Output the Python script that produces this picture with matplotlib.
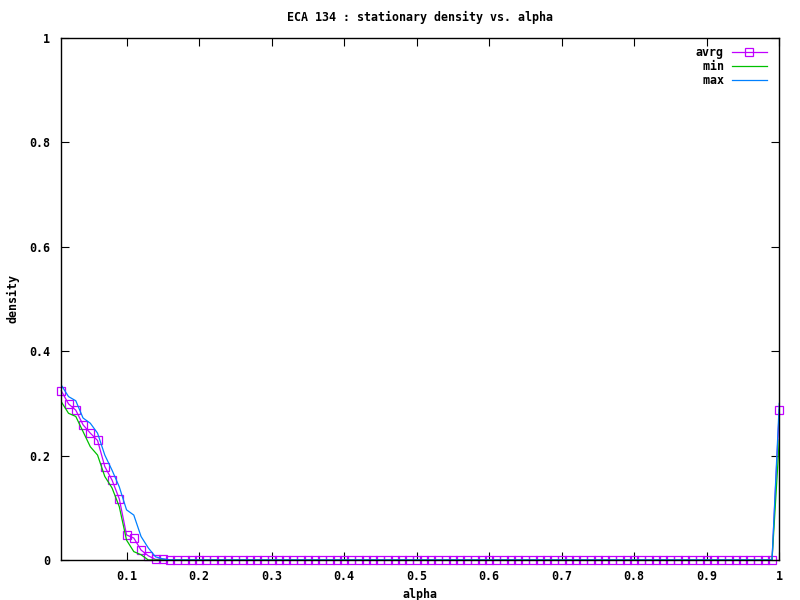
import numpy as np
import matplotlib
matplotlib.use('Agg')
import matplotlib.pyplot as plt

# alpha = 0.01 .. 1.00 step 0.01
alpha = np.round(np.arange(1, 101) * 0.01, 2)

# values (first 15 points, then zeros, then the last point)
avrg_head = [0.324, 0.299, 0.287, 0.259, 0.243, 0.229, 0.179, 0.153, 0.117, 0.048,
             0.042, 0.019, 0.008, 0.001, 0.002]
min_head = [0.303, 0.281, 0.275, 0.246, 0.217, 0.201, 0.160, 0.138, 0.102, 0.038,
            0.016, 0.010, 0.0, 0.0, 0.0]
max_head = [0.335, 0.313, 0.305, 0.272, 0.262, 0.243, 0.201, 0.172, 0.140, 0.096,
            0.086, 0.045, 0.023, 0.006, 0.002]
avrg_last = 0.288
min_last = 0.230
max_last = 0.300

avrg = np.array(avrg_head + [0.0] * 84 + [avrg_last])
dmin = np.array(min_head + [0.0] * 84 + [min_last])
dmax = np.array(max_head + [0.0] * 84 + [max_last])

xticks = [0.1, 0.2, 0.3, 0.4, 0.5, 0.6, 0.7, 0.8, 0.9, 1.0]
xlabels = ['0.1', '0.2', '0.3', '0.4', '0.5', '0.6', '0.7', '0.8', '0.9', '1']
yticks = [0, 0.2, 0.4, 0.6, 0.8, 1.0]
ylabels = ['0', '0.2', '0.4', '0.6', '0.8', '1']

fs = 8.4
plt.rcParams['font.family'] = ['DejaVu Sans Mono']
plt.rcParams['font.size'] = fs
plt.rcParams['font.weight'] = 'bold'

fig = plt.figure(figsize=(8, 6), dpi=100)
ax = fig.add_axes([0.0766, 0.0667, 0.8975, 0.8700])

ax.plot(alpha, avrg, color='#c000ff', lw=0.9, marker='s', ms=6.3,
        mfc='none', mec='#c000ff', mew=0.9, label='avrg', zorder=2,
        clip_on=False)
ax.plot(alpha, dmin, color='#00c000', lw=0.9, label=' min', zorder=3)
ax.plot(alpha, dmax, color='#0080ff', lw=0.9, label=' max', zorder=4)

ax.set_xlim(0.01, 1.0)
ax.set_ylim(0, 1)
ax.set_xticks(xticks)
ax.set_xticklabels(xlabels)
ax.set_yticks(yticks)
ax.set_yticklabels(ylabels)
ax.tick_params(direction='in', length=6, width=0.8, top=True, right=True,
               labelsize=fs)
ax.tick_params(axis='y', pad=8)
ax.tick_params(axis='x', pad=7)
for s in ax.spines.values():
    s.set_linewidth(1.0)
    s.set_zorder(5)

ax.set_title('ECA 134 : stationary density vs. alpha', fontsize=fs,
             fontweight='bold', pad=12)
ax.set_xlabel('alpha', fontsize=fs, fontweight='bold', labelpad=4)
ax.set_ylabel('density', fontsize=fs, fontweight='bold', labelpad=7)

leg = ax.legend(loc='upper right', bbox_to_anchor=(0.994, 1.0), frameon=False,
                markerfirst=False, handlelength=3.0, borderaxespad=0.3,
                labelspacing=0.1, handletextpad=0.7,
                prop={'family': 'DejaVu Sans Mono', 'size': fs, 'weight': 'bold'})
leg.legend_handles[0].set_markevery([1])

fig.savefig('out.png', dpi=100)
